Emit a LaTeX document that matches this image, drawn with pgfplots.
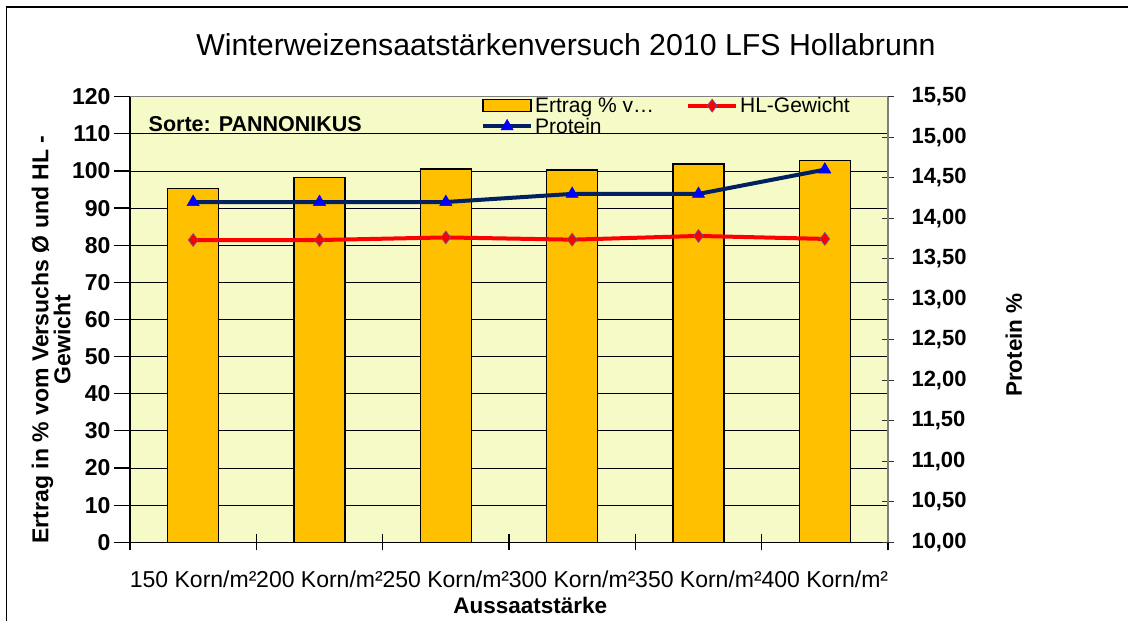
\documentclass[border=0pt]{standalone}
\usepackage{pgfplots}
\pgfplotsset{compat=1.18}
\usepackage{fontspec}
\setmainfont{Liberation Sans}
\definecolor{bg}{RGB}{245,250,198}
\definecolor{barc}{RGB}{255,192,0}
\definecolor{navy}{RGB}{0,32,96}
\definecolor{hlred}{RGB}{255,0,0}
\definecolor{framec}{RGB}{128,128,128}
\begin{document}
\begin{tikzpicture}
\useasboundingbox (0,0) rectangle (1128pt,621pt);
\draw[line width=1.2pt] (6.5pt,0) -- (6.5pt,614pt) -- (1128pt,614pt);
\node[font=\fontsize{30.3}{34}\selectfont] at (566pt,576pt) {Winterweizensaatstärkenversuch 2010 LFS Hollabrunn};

\begin{axis}[
  at={(130pt,78.7pt)}, anchor=south west,
  scale only axis, width=758pt, height=445.6pt,
  xmin=-0.5, xmax=5.5, ymin=0, ymax=120,
  axis background/.style={fill=bg},
  axis x line*=bottom, axis y line*=left,
  axis line style={black, line width=1.2pt},
  xtick={-0.5,0.5,1.5,2.5,3.5,4.5,5.5},
  x tick label as interval,
  xticklabels={150 Korn/m²,200 Korn/m²,250 Korn/m²,300 Korn/m²,350 Korn/m²,400 Korn/m²},
  xticklabel style={font=\fontsize{23}{24}\selectfont, anchor=base, yshift=-37pt},
  x tick style={black, line width=1.2pt},
  xtick align=center, major tick length=16pt,
  ytick={0,10,...,120},
  y tick style={black, line width=1.2pt},
  ytick align=outside,
  ymajorgrids, grid style={black, line width=0.9pt},
  yticklabel style={font=\bfseries\fontsize{23}{23}\selectfont, /pgf/number format/assume math mode=true},
  ylabel={Ertrag in \%  vom Versuchs Ø und HL -\\Gewicht},
  ylabel style={at={(axis description cs:-0.104,0.455)}, anchor=center, align=center, font=\bfseries\fontsize{23}{22}\selectfont},
  xlabel={Aussaatstärke},
  xlabel style={at={(axis description cs:0.528,0)}, anchor=base, yshift=-71.7pt, font=\bfseries\fontsize{22.5}{22}\selectfont},
  clip=false,
]
\addplot[ybar, bar shift=0pt, bar width=51pt, fill=barc, draw=black, line width=1.5pt]
  coordinates {(0,95.3) (1,98.2) (2,100.5) (3,100.3) (4,101.9) (5,102.8)};
\addplot[hlred, line width=4pt, mark=diamond*, mark size=6.5pt,
  mark options={fill=hlred, draw=gray!70!blue, line width=0.6pt}]
  coordinates {(0,81.4) (1,81.4) (2,82.1) (3,81.5) (4,82.5) (5,81.7)};
\node[anchor=base west, font=\bfseries\fontsize{21.5}{22}\selectfont] at (rel axis cs:0.02,0.921) {Sorte: PANNONIKUS};
\end{axis}

\begin{axis}[
  at={(130pt,78.7pt)}, anchor=south west,
  scale only axis, width=758pt, height=445.6pt,
  xmin=-0.5, xmax=5.5, ymin=10, ymax=15.5,
  axis y line*=right, axis x line*=top, xtick=\empty,
  axis line style={framec, line width=1.2pt},
  ytick={10,10.5,11,11.5,12,12.5,13,13.5,14,14.5,15,15.5},
  y tick style={black!80, line width=1.2pt},
  ytick align=center, major tick length=12pt,
  yticklabel style={font=\bfseries\fontsize{22}{22}\selectfont, xshift=14pt,
    /pgf/number format/.cd, fixed, fixed zerofill, precision=2, use comma, assume math mode=true},
  ylabel={Protein \%},
  ylabel style={at={(axis description cs:1.166,0.443)}, anchor=center, font=\bfseries\fontsize{22.5}{22}\selectfont},
  legend columns=2,
  legend style={at={(rel axis cs:0.459,1.008)}, anchor=north west, draw=none, fill=none,
    font=\fontsize{21}{22}\selectfont, cells={anchor=west},
    /tikz/every even column/.append style={column sep=30pt}},
  legend image code/.code={\draw[mark repeat=2,mark phase=2,#1] plot coordinates {(0pt,0pt) (24pt,0pt) (48pt,0pt)};},
  clip=false,
]
\addlegendimage{legend image code/.code={\draw[fill=barc,draw=black,line width=1.5pt] (0pt,-6pt) rectangle (48pt,6pt);}}
\addlegendentry{Ertrag \% v…}
\addlegendimage{hlred, line width=4pt, mark=diamond*, mark size=6.5pt,
  mark options={fill=hlred, draw=gray!70!blue, line width=0.6pt}}
\addlegendentry{HL-Gewicht}
\addplot[navy, line width=4pt, mark=triangle*, mark size=7pt,
  mark options={fill=blue, draw=blue, line width=0.5pt}]
  coordinates {(0,14.2) (1,14.2) (2,14.2) (3,14.3) (4,14.3) (5,14.6)};
\addlegendentry{Protein}
\end{axis}
\end{tikzpicture}
\end{document}
